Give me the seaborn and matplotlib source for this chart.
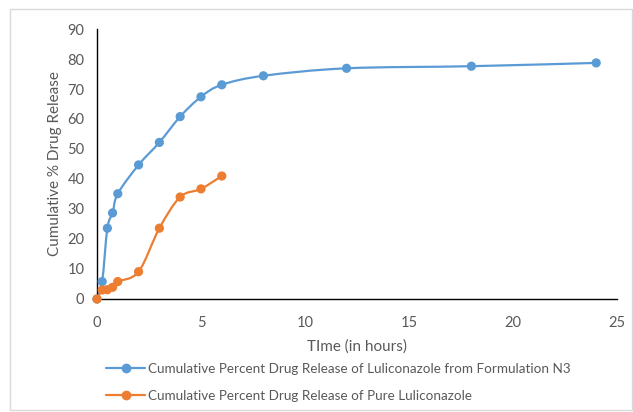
import numpy as np
import pandas as pd
import matplotlib
matplotlib.use("Agg")
import matplotlib.pyplot as plt
from matplotlib.path import Path
from matplotlib.patches import PathPatch, Rectangle
from matplotlib.lines import Line2D
import seaborn as sns

time_n3 = [0, 0.25, 0.5, 0.75, 1, 2, 3, 4, 5, 6, 8, 12, 18, 24]
release_n3 = [0, 5.8, 23.6, 28.7, 35.1, 44.7, 52.2, 60.8, 67.4, 71.4, 74.4, 76.9, 77.6, 78.7]

time_pure = [0, 0.25, 0.5, 0.75, 1, 2, 3, 4, 5, 6]
release_pure = [0, 3.0, 3.1, 3.9, 5.8, 9.1, 23.6, 34.0, 36.7, 41.0]

label_n3 = "Cumulative Percent Drug Release of Luliconazole from Formulation N3"
label_pure = "Cumulative Percent Drug Release of Pure Luliconazole"

BLUE = "#5B9BD5"
ORANGE = "#ED7D31"
GREY = "#595959"


def smooth_path(x, y):
    # excel-like smoothed line: cubic bezier through the points
    pts = np.column_stack([x, y]).astype(float)
    verts = [pts[0]]
    codes = [Path.MOVETO]
    n = len(pts)
    for i in range(n - 1):
        p0 = pts[i - 1] if i > 0 else pts[i]
        p1 = pts[i]
        p2 = pts[i + 1]
        p3 = pts[i + 2] if i + 2 < n else pts[i + 1]
        c1 = p1 + (p2 - p0) / 6.0
        c2 = p2 - (p3 - p1) / 6.0
        verts += [c1, c2, p2]
        codes += [Path.CURVE4] * 3
    return Path(verts, codes)


def main():
    sns.set_style("white")
    plt.rcParams["font.family"] = ["Lato", "DejaVu Sans"]

    df = pd.concat([
        pd.DataFrame({"time": time_n3, "release": release_n3, "series": label_n3}),
        pd.DataFrame({"time": time_pure, "release": release_pure, "series": label_pure}),
    ])

    fig = plt.figure(figsize=(6.33, 4.12), dpi=100)
    ax = fig.add_axes([0.1532, 0.2743, 0.8215, 0.6553])

    for lab, col in [(label_n3, BLUE), (label_pure, ORANGE)]:
        sub = df[df["series"] == lab]
        ax.add_patch(PathPatch(smooth_path(sub["time"], sub["release"]),
                               facecolor="none", edgecolor=col, lw=1.6, zorder=2))
    sns.scatterplot(df, x="time", y="release", hue="series",
                    palette={label_n3: BLUE, label_pure: ORANGE},
                    s=44, edgecolor="none", legend=False, ax=ax, zorder=3,
                    clip_on=False)

    ax.set_xlim(0, 25)
    ax.set_ylim(0, 90)
    ax.set_xticks(range(0, 26, 5))
    ax.set_yticks(range(0, 91, 10))
    for s in ["top", "right"]:
        ax.spines[s].set_visible(False)
    for s in ["left", "bottom"]:
        ax.spines[s].set_color("black")
        ax.spines[s].set_linewidth(1.0)
    ax.tick_params(axis="both", direction="out", length=4, width=1,
                   color="black", labelcolor=GREY, labelsize=10.5, pad=5)
    ax.tick_params(axis="x", length=3, pad=9)
    ax.set_xlabel("TIme (in hours)", color=GREY, fontsize=11, labelpad=7)
    ax.set_ylabel("Cumulative % Drug Release", color=GREY, fontsize=11, labelpad=4)

    handles = [Line2D([], [], color=BLUE, lw=1.6, marker="o", ms=6),
               Line2D([], [], color=ORANGE, lw=1.6, marker="o", ms=6)]
    fig.legend(handles, [label_n3, label_pure], loc="upper left",
               bbox_to_anchor=(0.168, 0.12), frameon=False, fontsize=9.7,
               labelcolor=GREY, handlelength=2.9, handletextpad=0.2,
               labelspacing=1.15, borderaxespad=0, borderpad=0)

    fig.patches.append(Rectangle((10 / 633, 2 / 412), 622 / 633, 401 / 412,
                                 transform=fig.transFigure, fill=False,
                                 edgecolor="#D9D9D9", lw=1))

    fig.savefig("out.png", dpi=100)


if __name__ == "__main__":
    main()
